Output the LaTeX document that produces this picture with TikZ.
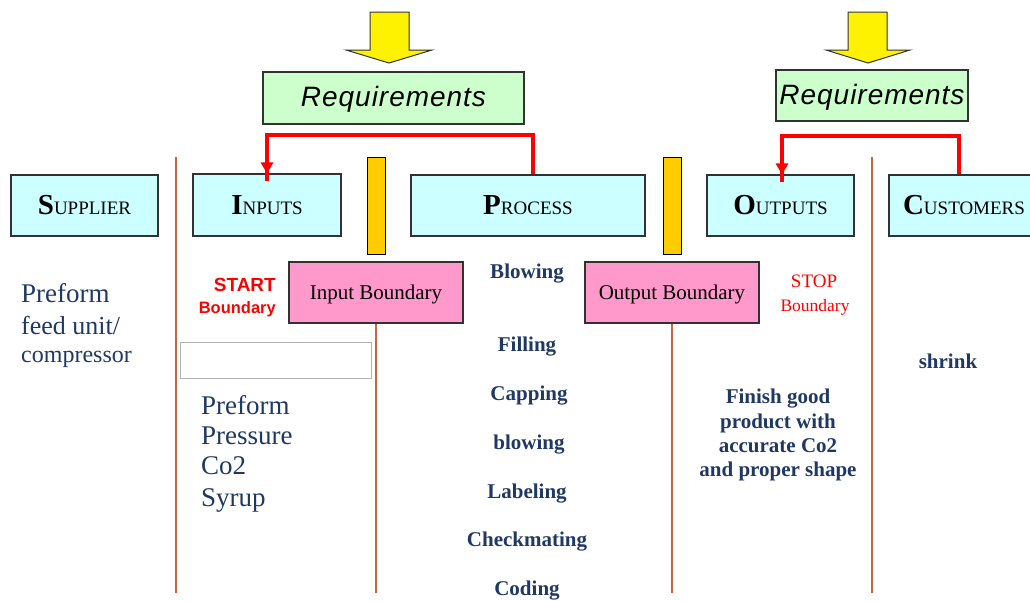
\documentclass[tikz,border=0pt]{standalone}
\usepackage{fontspec}
\setmainfont{Liberation Serif}
\newfontfamily\arialf{Liberation Sans}
\newfontfamily\arialreq[LetterSpace=3.5]{Liberation Sans}
\usetikzlibrary{arrows.meta}
\definecolor{navy}{RGB}{31,56,100}
\definecolor{cyanbox}{RGB}{204,255,255}
\definecolor{greenbox}{RGB}{204,255,204}
\definecolor{pinkbox}{RGB}{255,153,204}
\definecolor{barcol}{RGB}{255,204,0}
\definecolor{vline}{RGB}{200,100,70}
\definecolor{boxline}{RGB}{50,50,50}
\tikzset{
  phase/.style={draw=boxline, line width=1.3pt, fill=cyanbox, inner sep=0pt, anchor=center},
  reqbox/.style={draw=boxline, line width=1.3pt, fill=greenbox, inner sep=0pt, text height=17pt, text depth=0pt, font=\arialreq\itshape\fontsize{28}{30}\selectfont},
  bndbox/.style={draw=boxline, line width=1.3pt, fill=pinkbox, inner sep=0pt, text depth=0pt, font=\fontsize{21}{24}\selectfont},
  bar/.style={draw=black, line width=1pt, fill=barcol},
  yarrow/.style={draw=boxline, line width=1pt, fill=yellow},
  redline/.style={draw=red, line width=3.5pt},
  sep/.style={draw=vline, line width=1.6pt},
  item/.style={text=navy, font=\bfseries\fontsize{21}{24}\selectfont, inner sep=0pt, text depth=0pt},
  plain/.style={text=navy, anchor=west, inner sep=0pt, text depth=0pt},
}
\newcommand{\scap}[2]{{\bfseries\fontsize{29}{30}\selectfont #1}{\fontsize{19}{20}\selectfont #2}}
\begin{document}
\begin{tikzpicture}[x=1pt,y=-1pt]
\useasboundingbox (0,0) rectangle (1030,600);
% yellow arrows
\draw[yarrow] (370,12) -- (409,12) -- (409,50) -- (432,50) -- (389,63) -- (346,50) -- (370,50) -- cycle;
\draw[yarrow] (848,12) -- (887,12) -- (887,50) -- (910,50) -- (868,63) -- (826,50) -- (848,50) -- cycle;
% requirement boxes
\node[reqbox, minimum width=261pt, minimum height=52pt] (req1) at (393.5,98) {Requirements};
\node[reqbox, minimum width=192pt, minimum height=51pt] (req2) at (872,95.5) {Requirements};
% separator lines
\draw[sep] (176,157) -- (176,593);
\draw[sep] (872,157) -- (872,593);
% phase boxes
\node[phase, minimum width=147pt, minimum height=61pt] (sup) at (84.5,205.5) {\scap{S}{UPPLIER}};
\node[phase, minimum width=148pt, minimum height=62pt] (inp) at (267,205) {\scap{I}{NPUTS}};
\node[phase, minimum width=234pt, minimum height=61pt] (proc) at (528,205.5) {\scap{P}{ROCESS}};
\node[phase, minimum width=147pt, minimum height=61pt] (outp) at (780.5,205.5) {\scap{O}{UTPUTS}};
\node[phase, minimum width=150pt, minimum height=61pt] (cust) at (964,205.5) {\scap{C}{USTOMERS}};
% yellow bars
\draw[bar] (367,157) rectangle (385,254);
\draw[bar] (663,157) rectangle (681,254);
% red brackets
\coordinate (r1L) at (267,135);
\coordinate (r1R) at (533,135);
\coordinate (r2L) at (782,136);
\coordinate (r2R) at (959,136);
\draw[redline] (proc.north -| r1R) -- (r1R) -- (r1L) -- ([yshift=-8pt]inp.north -| r1L);
\fill[red] (inp.north -| r1L) -- ++(-6.5,-11) -- ++(13,0) -- cycle;
\draw[redline] (cust.north -| r2R) -- (r2R) -- (r2L) -- ([yshift=-8pt]outp.north -| r2L);
\fill[red] (outp.north -| r2L) -- ++(-6.5,-11) -- ++(13,0) -- cycle;
% boundary boxes
\node[bndbox, minimum width=174pt, minimum height=61pt] (ib) at (376,292.5) {Input Boundary};
\node[bndbox, minimum width=174pt, minimum height=61pt] (ob) at (672,292.5) {Output Boundary};
\draw[sep] (ib.south) -- (376,593);
\draw[sep] (ob.south) -- (672,593);
% start / stop
\node[text=red, font=\arialf\bfseries\fontsize{19}{22}\selectfont, anchor=east, inner sep=0pt] (start) at (276,285) {START};
\node[text=red, font=\arialf\bfseries\fontsize{16.5}{20}\selectfont, anchor=east, inner sep=0pt, text depth=0pt] (startb) at (276,308) {Boundary};
\node[text=red, font=\fontsize{19}{22}\selectfont, inner sep=0pt] (stop) at (814,281) {STOP};
\node[text=red, font=\fontsize{17.5}{20}\selectfont, inner sep=0pt, text depth=0pt] (stopb) at (815,305) {Boundary};
% supplier text
\node[plain, font=\fontsize{27}{31}\selectfont] (s1) at (21,293) {Preform};
\node[plain, font=\fontsize{26}{31}\selectfont] (s2) at (21,325) {feed unit/};
\node[plain, font=\fontsize{24}{31}\selectfont] (s3) at (21,357) {compressor};
% empty box
\draw[draw=black!30, line width=0.8pt] (180,342) rectangle (371,378);
% inputs list
\node[plain, font=\fontsize{27}{31}\selectfont] (i1) at (201,405) {Preform};
\node[plain, font=\fontsize{27}{31}\selectfont] (i2) at (201,436) {Pressure};
\node[plain, font=\fontsize{27}{31}\selectfont] (i3) at (201,466) {Co2};
\node[plain, font=\fontsize{27}{31}\selectfont] (i4) at (201,498) {Syrup};
% process items
\node[item] (p1) at (527,271) {Blowing};
\node[item] (p2) at (527,344) {Filling};
\node[item] (p3) at (529,393) {Capping};
\node[item] (p4) at (529,442) {blowing};
\node[item] (p5) at (527,491) {Labeling};
\node[item] (p6) at (527,539) {Checkmating};
\node[item] (p7) at (527,588) {Coding};
% outputs
\node[item, align=center, font=\bfseries\fontsize{21}{24.3}\selectfont] (o1) at (778,433) {Finish good\\product with\\accurate Co2\\and proper shape};
% customers
\node[item] (c1) at (948,361) {shrink};
\end{tikzpicture}
\end{document}
